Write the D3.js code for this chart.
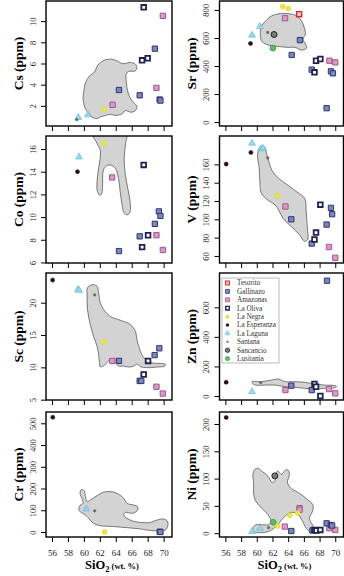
<!DOCTYPE html>
<html lang="en">
<head>
<meta charset="UTF-8" />
<title>trace elements vs SiO2</title>
<style>
  body { margin: 0; background: #fff; }
  text { font-family: "Liberation Serif", "DejaVu Serif", serif; }
</style>
</head>
<body>
<svg id="svg" width="344" height="576"></svg>
<script src="https://cdn.jsdelivr.net/npm/d3@7/dist/d3.min.js"></script>
<script>
const series = ['Tesorito', 'Gallinazo', 'Amazonas', 'La Oliva', 'La Negra', 'La Esperanza', 'La Laguna', 'Santana', 'Sancancio', 'Lusitania']
const silicaTicks = [56, 58, 60, 62, 64, 66, 68, 70]

// samples as [series, SiO2 wt.%, ppm]
const cs = [
  ['La Oliva', 67.5, 11.3], ['La Oliva', 67.3, 6.3], ['La Oliva', 68.0, 6.5],
  ['Gallinazo', 68.9, 7.4], ['Gallinazo', 67.0, 3.0], ['Gallinazo', 69.5, 2.6], ['Gallinazo', 69.6, 2.5], ['Gallinazo', 64.4, 3.5],
  ['Amazonas', 69.9, 10.5], ['Amazonas', 69.1, 3.7], ['Amazonas', 63.6, 2.1],
  ['La Negra', 62.5, 1.7], ['La Laguna', 59.3, 0.9], ['La Laguna', 60.5, 1.15], ['Santana', 59.1, 0.7]
]
const sr = [
  ['La Negra', 63.3, 824], ['La Negra', 64.0, 810], ['Tesorito', 65.4, 770],
  ['Amazonas', 63.6, 741], ['Amazonas', 69.25, 438], ['Amazonas', 70.0, 426],
  ['La Laguna', 60.4, 682], ['La Laguna', 59.4, 620], ['Santana', 61.4, 640], ['Sancancio', 62.2, 625],
  ['La Esperanza', 59.2, 561], ['Lusitania', 62.05, 528],
  ['Gallinazo', 65.5, 585], ['Gallinazo', 64.45, 479], ['Gallinazo', 67.0, 374], ['Gallinazo', 69.45, 362], ['Gallinazo', 69.7, 348], ['Gallinazo', 68.9, 99],
  ['La Oliva', 67.55, 438], ['La Oliva', 68.1, 450], ['La Oliva', 67.35, 355]
]
const co = [
  ['La Negra', 62.56, 16.5], ['La Laguna', 59.4, 15.3], ['La Esperanza', 59.2, 14.0],
  ['La Oliva', 67.5, 14.6], ['La Oliva', 68.05, 8.4], ['La Oliva', 67.3, 7.35],
  ['Amazonas', 63.55, 13.5], ['Amazonas', 69.1, 8.4], ['Amazonas', 69.9, 7.1],
  ['Gallinazo', 69.4, 10.5], ['Gallinazo', 69.6, 10.1], ['Gallinazo', 68.9, 9.4], ['Gallinazo', 67.0, 8.3], ['Gallinazo', 64.4, 7.0]
]
const v = [
  ['La Esperanza', 56.1, 160.3], ['La Esperanza', 59.25, 173],
  ['La Laguna', 59.4, 183], ['La Laguna', 60.55, 177], ['La Laguna', 60.8, 177.5],
  ['Santana', 61.4, 167], ['La Negra', 62.65, 126],
  ['Amazonas', 63.65, 114], ['Amazonas', 69.2, 69.8], ['Amazonas', 70.0, 58],
  ['Gallinazo', 64.4, 100], ['Gallinazo', 69.45, 112.5], ['Gallinazo', 69.6, 105.6], ['Gallinazo', 68.9, 94.3], ['Gallinazo', 67.0, 73.5],
  ['La Oliva', 68.1, 116], ['La Oliva', 67.55, 85.5], ['La Oliva', 67.35, 78]
]
const sc = [
  ['La Esperanza', 56.08, 23.5], ['La Laguna', 59.26, 22.05], ['La Laguna', 59.4, 21.9],
  ['Santana', 61.35, 21.2], ['La Negra', 62.56, 13.9],
  ['Amazonas', 63.57, 11.0], ['Amazonas', 69.1, 7.0], ['Amazonas', 69.9, 5.95],
  ['Gallinazo', 64.4, 11.0], ['Gallinazo', 69.46, 12.95], ['Gallinazo', 68.87, 11.9], ['Gallinazo', 67.0, 7.9], ['Gallinazo', 67.2, 7.9],
  ['La Oliva', 68.05, 11.0], ['La Oliva', 67.5, 8.9]
]
const zn = [
  ['Gallinazo', 68.95, 780], ['La Esperanza', 56.1, 93], ['La Laguna', 59.4, 29], ['Santana', 60.5, 90],
  ['Amazonas', 63.65, 40], ['Amazonas', 69.2, 47], ['Amazonas', 70.0, 18],
  ['Gallinazo', 64.4, 70], ['Gallinazo', 67.0, 40],
  ['La Oliva', 67.35, 81], ['La Oliva', 67.55, 63], ['La Oliva', 68.1, 0]
]
const cr = [
  ['La Esperanza', 56.1, 528], ['La Laguna', 60.3, 106], ['Santana', 61.35, 97],
  ['La Negra', 62.6, 1], ['Gallinazo', 69.5, 1], ['Gallinazo', 69.6, 0]
]
const ni = [
  ['La Esperanza', 56.1, 212], ['Sancancio', 62.3, 105],
  ['Amazonas', 65.45, 46], ['Amazonas', 65.45, 43], ['Amazonas', 63.57, 12], ['Amazonas', 69.25, 9], ['Amazonas', 70.0, 6],
  ['Lusitania', 62.1, 20],
  ['Gallinazo', 64.4, 4], ['Gallinazo', 68.9, 18], ['Gallinazo', 69.45, 15], ['Gallinazo', 69.6, 14], ['Gallinazo', 67.1, 5],
  ['La Oliva', 67.35, 6], ['La Oliva', 67.6, 5], ['La Oliva', 68.1, 6],
  ['La Laguna', 59.4, 3], ['La Laguna', 60.4, 9], ['Santana', 61.5, 10],
  ['La Negra', 62.65, 13], ['La Negra', 64.2, 33], ['La Negra', 65.2, 37]
]

// grey compositional fields, [SiO2, ppm]
const csField = [[60.0,3.4],[60.2,4.2],[60.8,4.9],[61.35,5.2],[61.7,5.8],[62.1,6.1],[62.7,6.35],[63.5,6.4],[64.15,6.25],[64.8,6.0],[65.2,6.0],[65.8,6.1],[66.45,5.95],[66.65,5.6],[66.45,5.3],[65.6,5.25],[65.3,5.0],[65.3,4.4],[65.4,3.75],[65.6,3.1],[66.0,2.5],[66.65,1.95],[66.45,1.55],[65.9,1.4],[65.2,1.55],[64.8,1.25],[63.95,1.1],[63.3,1.2],[62.7,1.1],[62.05,0.95],[61.65,0.8],[61.0,0.95],[60.7,1.25],[60.2,1.7],[60.0,2.2],[59.9,2.8]]
const srField = [[60.45,640],[60.65,690],[61.1,720],[61.9,758],[63.0,774],[64.0,774],[65.1,758],[65.7,722],[66.05,675],[66.2,628],[65.9,592],[66.2,557],[66.35,528],[65.7,514],[64.9,533],[64.0,533],[63.0,538],[61.9,545],[61.1,557],[60.6,580]]
const coField = [[61.0,17.6],[61.65,16.5],[62.05,15.9],[62.05,15.2],[61.85,14.3],[61.65,13.1],[61.7,12.25],[62.05,11.9],[62.25,12.1],[62.35,12.8],[62.4,14.0],[62.7,14.45],[63.3,14.6],[63.95,14.3],[64.35,13.4],[64.55,12.25],[64.8,11.05],[65.05,10.35],[65.5,10.2],[65.8,10.5],[65.8,11.35],[65.5,12.55],[65.2,13.7],[65.05,15.2],[65.2,16.35],[65.3,17.6]]
const vField = [[60.4,179],[61.0,179],[61.25,172],[61.55,163],[61.9,154],[62.75,145],[64.0,137],[65.25,129],[66.1,123],[66.3,108],[66.45,90],[66.5,78],[66.1,76],[65.45,83],[64.4,92],[63.35,101],[62.8,110],[62.3,116],[61.25,122],[60.55,129],[60.4,141],[60.3,157],[60.1,170]]
const scField = [[60.45,22.3],[60.8,22.7],[61.2,22.8],[61.65,22.55],[61.85,21.55],[62.05,20.0],[62.45,19.0],[63.3,17.9],[64.55,17.3],[65.8,16.65],[66.45,15.6],[66.65,14.35],[67.0,12.8],[67.5,11.5],[68.35,10.75],[69.6,10.6],[70.2,10.5],[70.15,10.2],[69.15,10.05],[67.9,9.95],[67.1,10.1],[66.65,10.5],[66.25,10.2],[65.6,10.05],[65.0,10.2],[64.35,10.2],[63.95,10.75],[63.3,11.25],[62.9,10.75],[62.45,10.2],[62.05,10.1],[61.95,10.75],[61.85,12.0],[61.65,13.3],[61.2,14.85],[60.8,16.65],[60.45,19.0],[60.4,21.0]]
const znField = [[59.4,97],[60.6,97],[61.9,108],[62.75,115],[63.55,97],[64.6,97],[66.1,93],[67.35,81],[68.6,74],[70.1,68],[70.1,59],[68.6,52],[67.35,47],[66.1,52],[64.85,59],[63.55,63],[62.3,74],[61.05,74],[59.8,74],[59.45,86]]
const crField = [[59.55,189],[59.75,196],[60.05,189],[60.2,162],[60.4,139],[60.8,147],[61.65,167],[62.45,183],[63.3,186],[64.15,178],[65.0,155],[65.4,132],[66.25,124],[66.75,116],[66.65,97],[66.05,86],[65.2,90],[65.0,78],[65.8,55],[67.1,44],[68.35,44],[69.15,55],[70.0,60],[70.45,51],[70.55,32],[70.2,9],[69.15,5],[67.9,9],[67.1,14],[65.4,20],[63.75,25],[62.05,29],[61.2,40],[60.6,63],[60.2,78],[59.45,97],[59.35,109],[59.55,124],[59.9,132],[59.75,155],[59.55,173]]
const niField = [[59.7,116],[60.1,119],[60.7,113],[61.45,104],[61.95,93],[62.3,96],[62.4,106],[62.65,114],[63.15,108],[63.55,114],[63.8,117],[64.05,114],[64.15,106],[63.9,93],[64.4,82],[65.45,73],[66.5,61],[67.15,52],[67.1,40],[66.7,27],[67.15,14],[67.45,4],[66.85,2],[66.3,9],[65.75,24],[65.15,36],[64.4,38],[63.8,34],[63.15,24],[62.65,15],[62.1,8],[61.45,3],[60.6,1],[59.8,2],[59.5,8],[59.8,15],[60.4,16],[61.05,15],[61.55,16],[61.8,24],[61.25,37],[60.4,49],[59.8,61],[59.6,73],[59.6,91],[59.5,107]]

const panels = [
  { label: 'Cs', data: cs, field: csField, domain: [0.1, 11.9], ticks: [2, 4, 6, 8, 10], col: 0, row: 0 },
  { label: 'Sr', data: sr, field: srField, domain: [-28, 864], ticks: [0, 200, 400, 600, 800], col: 1, row: 0 },
  { label: 'Co', data: co, field: coField, domain: [5.95, 17.15], ticks: [6, 8, 10, 12, 14, 16], col: 0, row: 1 },
  { label: 'V', data: v, field: vField, domain: [52.3, 191], ticks: [60, 80, 100, 120, 140, 160], col: 1, row: 1 },
  { label: 'Sc', data: sc, field: scField, domain: [4.95, 24.6], ticks: [5, 10, 15, 20], col: 0, row: 2 },
  { label: 'Zn', data: zn, field: znField, domain: [-27, 832], ticks: [0, 200, 400, 600], col: 1, row: 2 },
  { label: 'Cr', data: cr, field: crField, domain: [-23, 552], ticks: [0, 100, 200, 300, 400, 500], col: 0, row: 3 },
  { label: 'Ni', data: ni, field: niField, domain: [-7, 222], ticks: [0, 50, 100, 150, 200], col: 1, row: 3 }
]

const style = {
  'Tesorito':     { shape: d3.symbolSquare, size: 26, fill: '#f7c9c9', stroke: '#e3262e', sw: 1.4 },
  'Gallinazo':    { shape: d3.symbolSquare, size: 28, fill: '#7d86b8', stroke: '#2e3572', sw: 1 },
  'Amazonas':     { shape: d3.symbolSquare, size: 28, fill: '#d79bc6', stroke: '#a4558f', sw: 1 },
  'La Oliva':     { shape: d3.symbolSquare, size: 22, fill: '#ffffff', stroke: '#1f2250', sw: 1.8 },
  'La Negra':     { shape: d3.symbolCircle, size: 20, fill: '#e9e640', stroke: '#d8d430', sw: 0.5 },
  'La Esperanza': { shape: d3.symbolCircle, size: 13, fill: '#2b0d0d', stroke: '#2b0d0d', sw: 0.5 },
  'La Laguna':    { shape: d3.symbolTriangle, size: 20, fill: '#97d8ec', stroke: '#5cb6d3', sw: 0.6 },
  'Santana':      { shape: d3.symbolCircle, size: 6, fill: '#666', stroke: '#666', sw: 0.3 },
  'Sancancio':    { shape: d3.symbolCircle, size: 28, fill: '#7a7a7a', stroke: '#222', sw: 1 },
  'Lusitania':    { shape: d3.symbolCircle, size: 26, fill: '#5fbf5f', stroke: '#3b8f3b', sw: 0.8 }
}

const svg = d3.select('#svg')
const colX = [[46, 172], [219.5, 343.5]]
const rowY = [[1, 126], [136, 263], [273, 400], [412, 537]]
const titleX = [23, 195.5]
const silicaDomain = [55.25, 71.05]

function drawSymbol(sel, name) {
  const s = style[name]
  sel.attr('d', d3.symbol().type(s.shape).size(s.size)())
    .attr('fill', s.fill).attr('stroke', s.stroke).attr('stroke-width', s.sw)
}

panels.forEach((p, i) => {
  const [x0, x1] = colX[p.col]
  const [y0, y1] = rowY[p.row]
  const x = d3.scaleLinear().domain(silicaDomain).range([x0, x1])
  const y = d3.scaleLinear().domain(p.domain).range([y1, y0])
  const g = svg.append('g')

  g.append('clipPath').attr('id', 'clip' + i)
    .append('rect').attr('x', x0).attr('y', y0).attr('width', x1 - x0).attr('height', y1 - y0)

  const inner = g.append('g').attr('clip-path', `url(#clip${i})`)
  inner.append('path').datum(p.field)
    .attr('d', d3.line().x(d => x(d[0])).y(d => y(d[1])).curve(d3.curveCatmullRomClosed.alpha(0.5)))
    .attr('fill', '#d3d3d3').attr('stroke', '#5a5a5a').attr('stroke-width', 0.8)

  if (p.label === 'Zn') {
    const lg = g.append('g')
    lg.append('rect').attr('x', 222).attr('y', 278).attr('width', 57).attr('height', 85)
      .attr('fill', '#fff').attr('stroke', '#aaa').attr('stroke-width', 0.8)
    series.forEach((name, k) => {
      const ly = 283 + k * 8.4
      lg.append('path')
        .call(drawSymbol, name)
        .attr('transform', `translate(227.5,${ly}) scale(0.75)`)
      lg.append('text').attr('x', 237).attr('y', ly + 2.4)
        .attr('font-size', 7.2).attr('fill', '#333').text(name)
    })
  }

  inner.selectAll('path.pt').data(p.data).enter().append('path').attr('class', 'pt')
    .each(function (d) { d3.select(this).call(drawSymbol, d[0]) })
    .attr('transform', d => `translate(${x(d[1])},${y(d[2])})`)

  // y axis
  const ya = g.append('g').attr('transform', `translate(${x0},0)`)
    .call(d3.axisLeft(y).tickValues(p.ticks).tickSize(5).tickSizeOuter(0))
  ya.select('.domain').remove()
  ya.selectAll('.tick line').attr('stroke', '#000')
  ya.selectAll('.tick text')
    .attr('x', null).attr('dy', null)
    .attr('transform', 'translate(-10.5,0) rotate(-90)')
    .attr('text-anchor', 'middle')
    .attr('font-family', '"Liberation Serif", serif').attr('font-size', 8.5).attr('fill', '#222')

  // x axis
  const xa = g.append('g').attr('transform', `translate(0,${y1})`)
    .call(d3.axisBottom(x).tickValues(silicaTicks).tickSize(5).tickSizeOuter(0)
      .tickFormat(p.row === 3 ? d3.format('d') : ''))
  xa.select('.domain').remove()
  xa.selectAll('.tick line').attr('stroke', '#000')
  xa.selectAll('.tick text').attr('y', 19).attr('dy', null)
    .attr('font-family', '"Liberation Serif", serif').attr('font-size', 9).attr('fill', '#222')

  g.append('rect').attr('x', x0).attr('y', y0).attr('width', x1 - x0).attr('height', y1 - y0)
    .attr('fill', 'none').attr('stroke', '#000').attr('stroke-width', 1.4)

  g.append('text')
    .attr('transform', `translate(${titleX[p.col]},${(y0 + y1) / 2}) rotate(-90)`)
    .attr('text-anchor', 'middle').attr('font-weight', 'bold').attr('font-size', 13.5)
    .text(`${p.label}  (ppm)`)

  if (p.row === 3) {
    const t = g.append('text').attr('x', (x0 + x1) / 2 + 3).attr('y', 569)
      .attr('text-anchor', 'middle').attr('font-weight', 'bold')
    t.append('tspan').attr('font-size', 12.5).text('SiO')
    t.append('tspan').attr('font-size', 8.5).attr('dy', 3).text('2')
    t.append('tspan').attr('font-size', 8.5).attr('dy', -3).text(' (wt. %)')
  }
})
</script>
</body>
</html>
